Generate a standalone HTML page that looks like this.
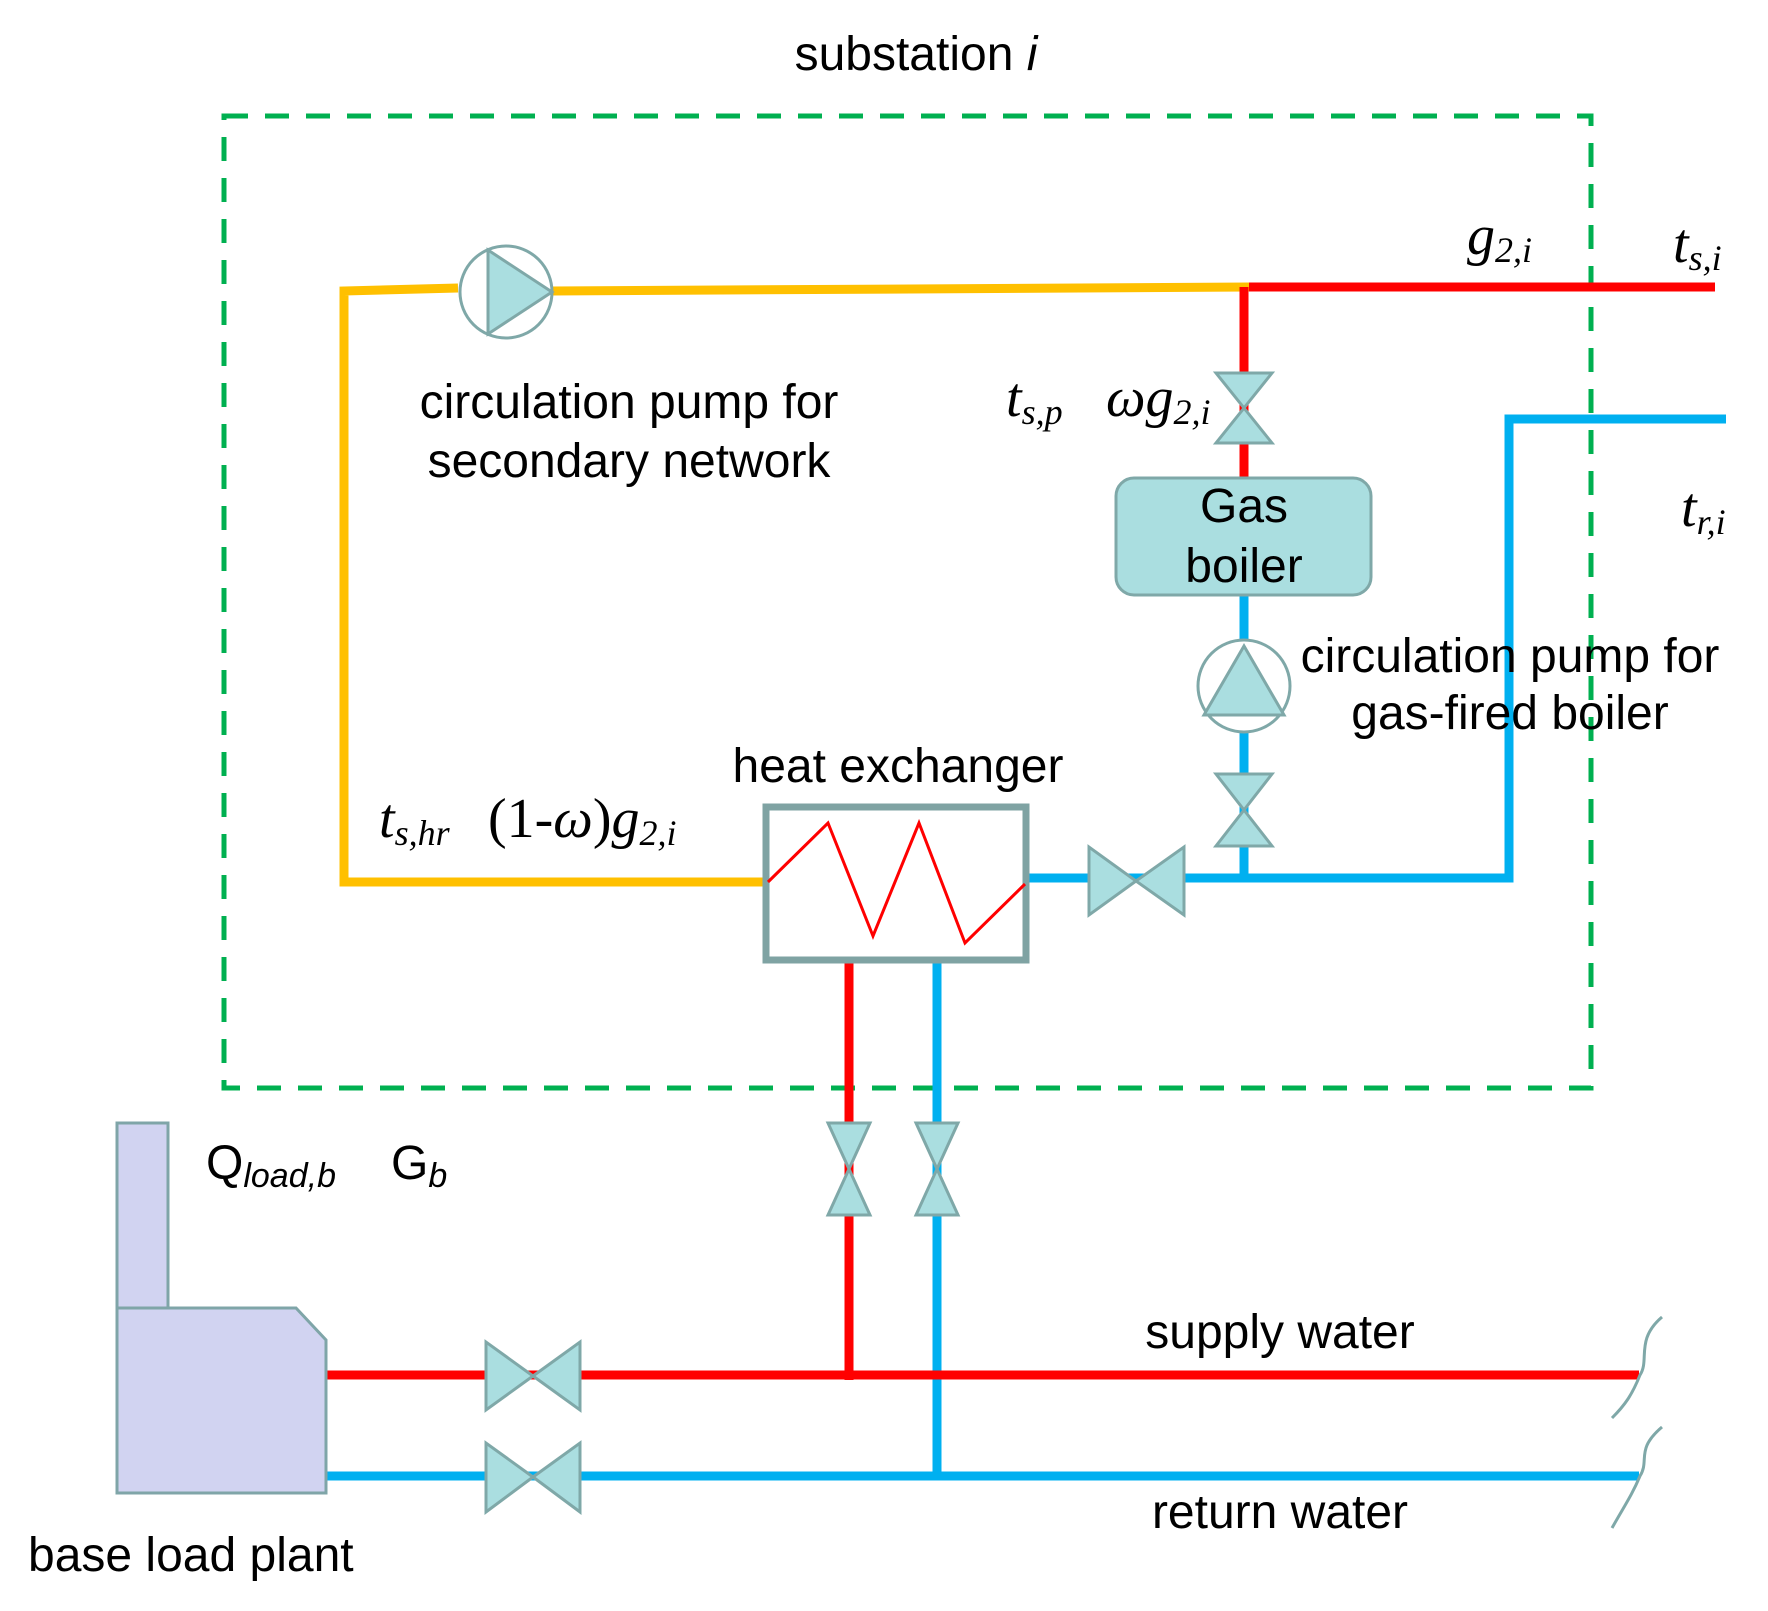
<!DOCTYPE html>
<html><head><meta charset="utf-8"><style>
html,body{margin:0;padding:0;background:#fff}
svg{display:block}
.s{font-family:"Liberation Sans",Arial,sans-serif;font-size:48px;fill:#000}
.m{font-family:"Liberation Serif","Times New Roman",serif;font-style:italic;font-size:56px;fill:#000}
.sub{font-size:36px}
</style></head><body>
<svg width="1768" height="1611" viewBox="0 0 1768 1611" xmlns="http://www.w3.org/2000/svg">
<rect x="224" y="116" width="1367" height="972" fill="none" stroke="#00b050" stroke-width="5" stroke-dasharray="24,17"/>

<polyline points="458,288 344,291 344,882 770,882" fill="none" stroke="#ffc000" stroke-width="9"/>
<line x1="552" y1="291" x2="1250" y2="287" stroke="#ffc000" stroke-width="9"/>
<line x1="1249" y1="287" x2="1715" y2="287" stroke="#ff0000" stroke-width="9"/>
<line x1="1244" y1="287" x2="1244" y2="478" stroke="#ff0000" stroke-width="9"/>
<line x1="1244" y1="595" x2="1244" y2="882" stroke="#00b0f0" stroke-width="9"/>
<polyline points="1023,878 1509,878 1509,419 1726,419" fill="none" stroke="#00b0f0" stroke-width="9"/>

<line x1="849" y1="960" x2="849" y2="1380" stroke="#ff0000" stroke-width="9"/>
<line x1="937" y1="960" x2="937" y2="1480" stroke="#00b0f0" stroke-width="9"/>

<line x1="326" y1="1375" x2="1639" y2="1375" stroke="#ff0000" stroke-width="9"/>
<line x1="326" y1="1476" x2="1639" y2="1476" stroke="#00b0f0" stroke-width="9"/>

<rect x="766" y="807" width="260" height="153" fill="#fff" stroke="#7fa3a3" stroke-width="7"/>
<polyline points="768,882 828,823 873,936 919,823 965,943 1025,884" fill="none" stroke="#ff0000" stroke-width="3"/>

<rect x="1116" y="478" width="255" height="117" rx="18" fill="#aadee0" stroke="#7fa8a8" stroke-width="3"/>

<g fill="#aadee0" stroke="#7fa8a8" stroke-width="3" stroke-linejoin="miter">
<polygon points="1216,373 1272,373 1244,408 1272,443 1216,443 1244,408"/>
<polygon points="1216,774 1272,774 1244,810 1272,846 1216,846 1244,810"/>
<polygon points="828,1123 870,1123 849,1169 870,1215 828,1215 849,1169"/>
<polygon points="916,1123 958,1123 937,1169 958,1215 916,1215 937,1169"/>
<polygon points="1089,847 1089,915 1136,881 1184,847 1184,915 1136,881"/>
<polygon points="486,1342 486,1410 533,1376 580,1342 580,1410 533,1376"/>
<polygon points="486,1443 486,1512 533,1477 580,1443 580,1512 533,1477"/>
</g>

<circle cx="506" cy="292" r="46" fill="#fff" stroke="#7fa8a8" stroke-width="3"/>
<polygon points="488,250 488,334 552,292" fill="#aadee0" stroke="#7fa8a8" stroke-width="3"/>
<circle cx="1244" cy="686" r="46" fill="#fff" stroke="#7fa8a8" stroke-width="3"/>
<polygon points="1244,646 1204,715 1284,715" fill="#aadee0" stroke="#7fa8a8" stroke-width="3"/>

<rect x="117" y="1123" width="51" height="187" fill="#d1d3f1" stroke="#7fa5a8" stroke-width="3"/>
<polygon points="117,1308 296,1308 326,1340 326,1493 117,1493" fill="#d1d3f1" stroke="#7fa5a8" stroke-width="3"/>

<path d="M1662,1317 C1635,1340 1650,1360 1640,1375 C1632,1395 1625,1405 1612,1418" fill="none" stroke="#7fa8a8" stroke-width="3"/>
<path d="M1662,1427 C1635,1450 1650,1460 1640,1476 C1632,1495 1625,1505 1612,1528" fill="none" stroke="#7fa8a8" stroke-width="3"/>

<text class="s" x="916" y="70" text-anchor="middle">substation <tspan font-style="italic">i</tspan></text>
<text class="s" x="629" y="418" text-anchor="middle">circulation pump for</text>
<text class="s" x="629" y="477" text-anchor="middle">secondary network</text>
<text class="s" x="1244" y="522" text-anchor="middle">Gas</text>
<text class="s" x="1244" y="582" text-anchor="middle">boiler</text>
<text class="s" x="1510" y="672" text-anchor="middle">circulation pump for</text>
<text class="s" x="1510" y="729" text-anchor="middle">gas-fired boiler</text>
<text class="s" x="898" y="782" text-anchor="middle">heat exchanger</text>
<text class="s" x="1280" y="1348" text-anchor="middle">supply water</text>
<text class="s" x="1280" y="1528" text-anchor="middle">return water</text>
<text class="s" x="28" y="1571">base load plant</text>
<text class="s" x="206" y="1179" font-size="52">Q<tspan font-style="italic" font-size="34" dy="8">load,b</tspan></text>
<text class="s" x="391" y="1179" font-size="52">G<tspan font-style="italic" font-size="34" dy="8">b</tspan></text>

<text class="m" x="1467" y="254">g<tspan class="sub" dy="8">2,i</tspan></text>
<text class="m" x="1673" y="262">t<tspan class="sub" dy="8">s,i</tspan></text>
<text class="m" x="1681" y="526">t<tspan class="sub" dy="8">r,i</tspan></text>
<text class="m" x="1006" y="416">t<tspan class="sub" dy="8">s,p</tspan></text>
<text class="m" x="1106" y="416">ωg<tspan class="sub" dy="8">2,i</tspan></text>
<text class="m" x="379" y="837">t<tspan class="sub" dy="8">s,hr</tspan></text>
<text class="m" x="488" y="837"><tspan font-style="normal">(1-</tspan>ω<tspan font-style="normal">)</tspan>g<tspan class="sub" dy="8">2,i</tspan></text>
</svg>
</body></html>
